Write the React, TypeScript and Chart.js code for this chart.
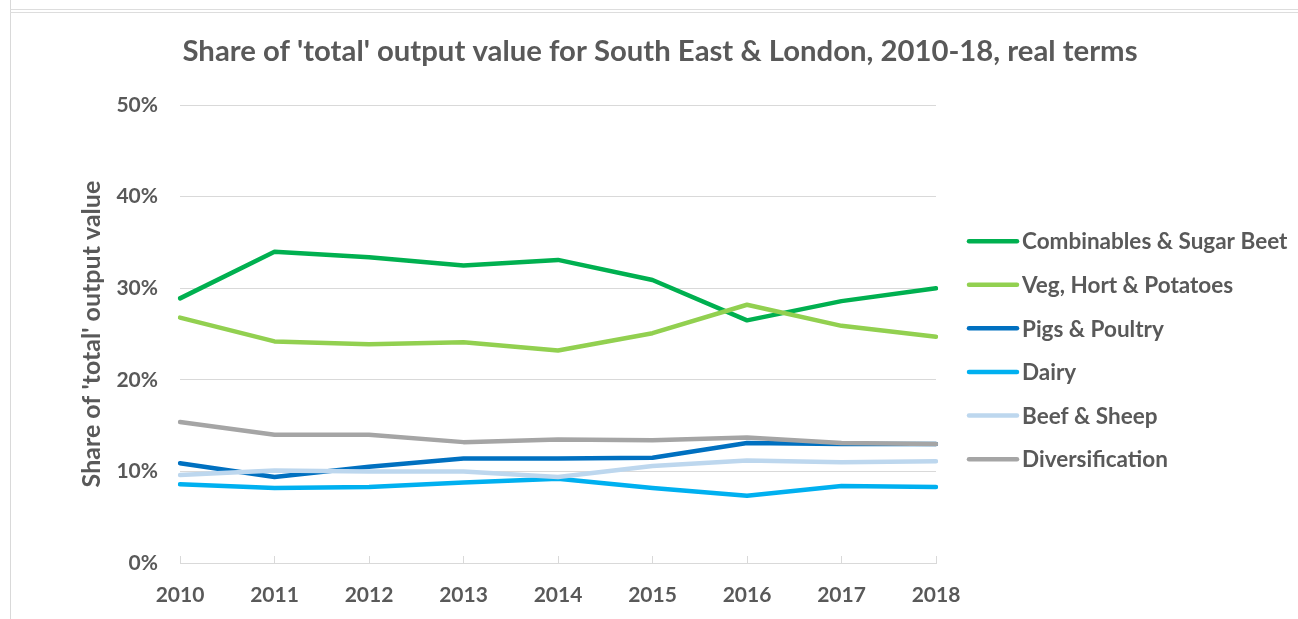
import React, { useEffect, useRef } from "react";
import { Chart, registerables } from "chart.js";

Chart.register(...registerables);

const years = ["2010", "2011", "2012", "2013", "2014", "2015", "2016", "2017", "2018"];
const combinables = [28.9, 34.0, 33.4, 32.5, 33.1, 30.9, 26.5, 28.6, 30.0];
const vegHort = [26.8, 24.2, 23.9, 24.1, 23.2, 25.1, 28.2, 25.9, 24.7];
const pigsPoultry = [10.9, 9.4, 10.5, 11.4, 11.4, 11.5, 13.1, 13.0, 13.0];
const dairy = [8.6, 8.2, 8.3, 8.8, 9.2, 8.2, 7.35, 8.4, 8.3];
const beefSheep = [9.6, 10.1, 10.0, 10.0, 9.4, 10.6, 11.2, 11.0, 11.1];
const diversification = [15.4, 14.0, 14.0, 13.2, 13.5, 13.4, 13.7, 13.1, 13.0];

const seriesNames = [
  "Combinables & Sugar Beet",
  "Veg, Hort & Potatoes",
  "Pigs & Poultry",
  "Dairy",
  "Beef & Sheep",
  "Diversification",
];
const seriesValues = [combinables, vegHort, pigsPoultry, dairy, beefSheep, diversification];
const seriesColors = ["#00B050", "#92D050", "#0070C0", "#00B0F0", "#BDD7EE", "#A5A5A5"];

const yTicks = [0, 10, 20, 30, 40, 50];
const titleText = "Share of 'total' output value for South East & London, 2010-18, real terms";
const yTitle = "Share of 'total' output value";

const FONT = "Lato";
const TEXT = "#595959";

const legendPlugin = {
  id: "sideLegend",
  afterDraw(chart: any) {
    const { ctx, chartArea } = chart;
    ctx.save();
    ctx.font = `bold 22.5px ${FONT}`;
    ctx.textBaseline = "middle";
    ctx.textAlign = "left";
    chart.data.datasets.forEach((ds: any, i: number) => {
      const y = chartArea.top + 136 + i * 43.6;
      const x0 = chartArea.right + 33;
      ctx.strokeStyle = ds.borderColor;
      ctx.lineWidth = 4.5;
      ctx.lineCap = "round";
      ctx.beginPath();
      ctx.moveTo(x0, y);
      ctx.lineTo(x0 + 48, y);
      ctx.stroke();
      ctx.fillStyle = TEXT;
      ctx.fillText(ds.label, x0 + 53, y + 1);
    });
    ctx.restore();
  },
};

export default function App() {
  const ref = useRef<HTMLCanvasElement | null>(null);
  useEffect(() => {
    if (!ref.current) return;
    const n = seriesNames.length;
    const chart = new Chart(ref.current, {
      type: "line",
      data: {
        labels: years,
        datasets: seriesNames.map((name, i) => ({
          label: name,
          data: seriesValues[i],
          borderColor: seriesColors[i],
          backgroundColor: seriesColors[i],
          borderWidth: 4.5,
          pointRadius: 0,
          pointHoverRadius: 0,
          tension: 0,
          fill: false,
          borderCapStyle: "round",
          borderJoinStyle: "round",
          order: n - 1 - i,
          yAxisID: "y",
        })),
      },
      options: {
        responsive: false,
        animation: false,
        events: [],
        layout: { padding: { left: 30, right: 8, top: 0, bottom: 12 } },
        plugins: {
          legend: { display: false },
          tooltip: { enabled: false },
          title: {
            display: true,
            text: titleText,
            color: TEXT,
            font: { family: FONT, size: 29.3, weight: "bold" },
            padding: { top: 34, bottom: 36 },
          },
        },
        scales: {
          x: {
            type: "category",
            offset: false,
            grid: {
              drawOnChartArea: false,
              drawTicks: true,
              tickLength: -7,
              color: "#D9D9D9",
              lineWidth: 1,
            },
            border: { display: true, color: "#D9D9D9", width: 1 },
            ticks: {
              color: TEXT,
              font: { family: FONT, size: 21, weight: "bold" },
              padding: 27,
              maxRotation: 0,
              autoSkip: false,
            },
            afterFit: (s: any) => {
              s.height = 44;
            },
          },
          y: {
            min: 0,
            max: 50,
            afterBuildTicks: (s: any) => {
              s.ticks = yTicks.map((v) => ({ value: v }));
            },
            afterFit: (s: any) => {
              s.width = 150;
            },
            grid: { color: "#D9D9D9", lineWidth: 1, drawTicks: false },
            border: { display: false },
            ticks: {
              color: TEXT,
              font: { family: FONT, size: 21, weight: "bold" },
              padding: 22,
              callback: (v: any) => v + "%",
            },
            title: {
              display: true,
              text: yTitle,
              color: TEXT,
              font: { family: FONT, size: 25, weight: "bold" },
              padding: { top: 47, bottom: 8 },
            },
          },
          y2: {
            position: "right",
            display: true,
            grid: { display: false },
            border: { display: false },
            ticks: { display: false },
            afterFit: (s: any) => {
              s.width = 354;
            },
          },
        },
      },
      plugins: [legendPlugin],
    } as any);
    return () => chart.destroy();
  }, []);

  return (
    <div
      style={{
        position: "fixed",
        left: 0,
        top: 0,
        width: 1298,
        height: 619,
        background: "#ffffff",
        overflow: "hidden",
      }}
    >
      <div style={{ position: "absolute", left: 10, top: 0, width: 1, height: 619, background: "#D9D9D9" }} />
      <div style={{ position: "absolute", left: 10, top: 9, width: 1288, height: 1, background: "#DDDDDD" }} />
      <div style={{ position: "absolute", left: 10, top: 12, width: 1288, height: 1, background: "#DDDDDD" }} />
      <canvas ref={ref} width={1298} height={619} style={{ position: "absolute", left: 0, top: 0 }} />
    </div>
  );
}
